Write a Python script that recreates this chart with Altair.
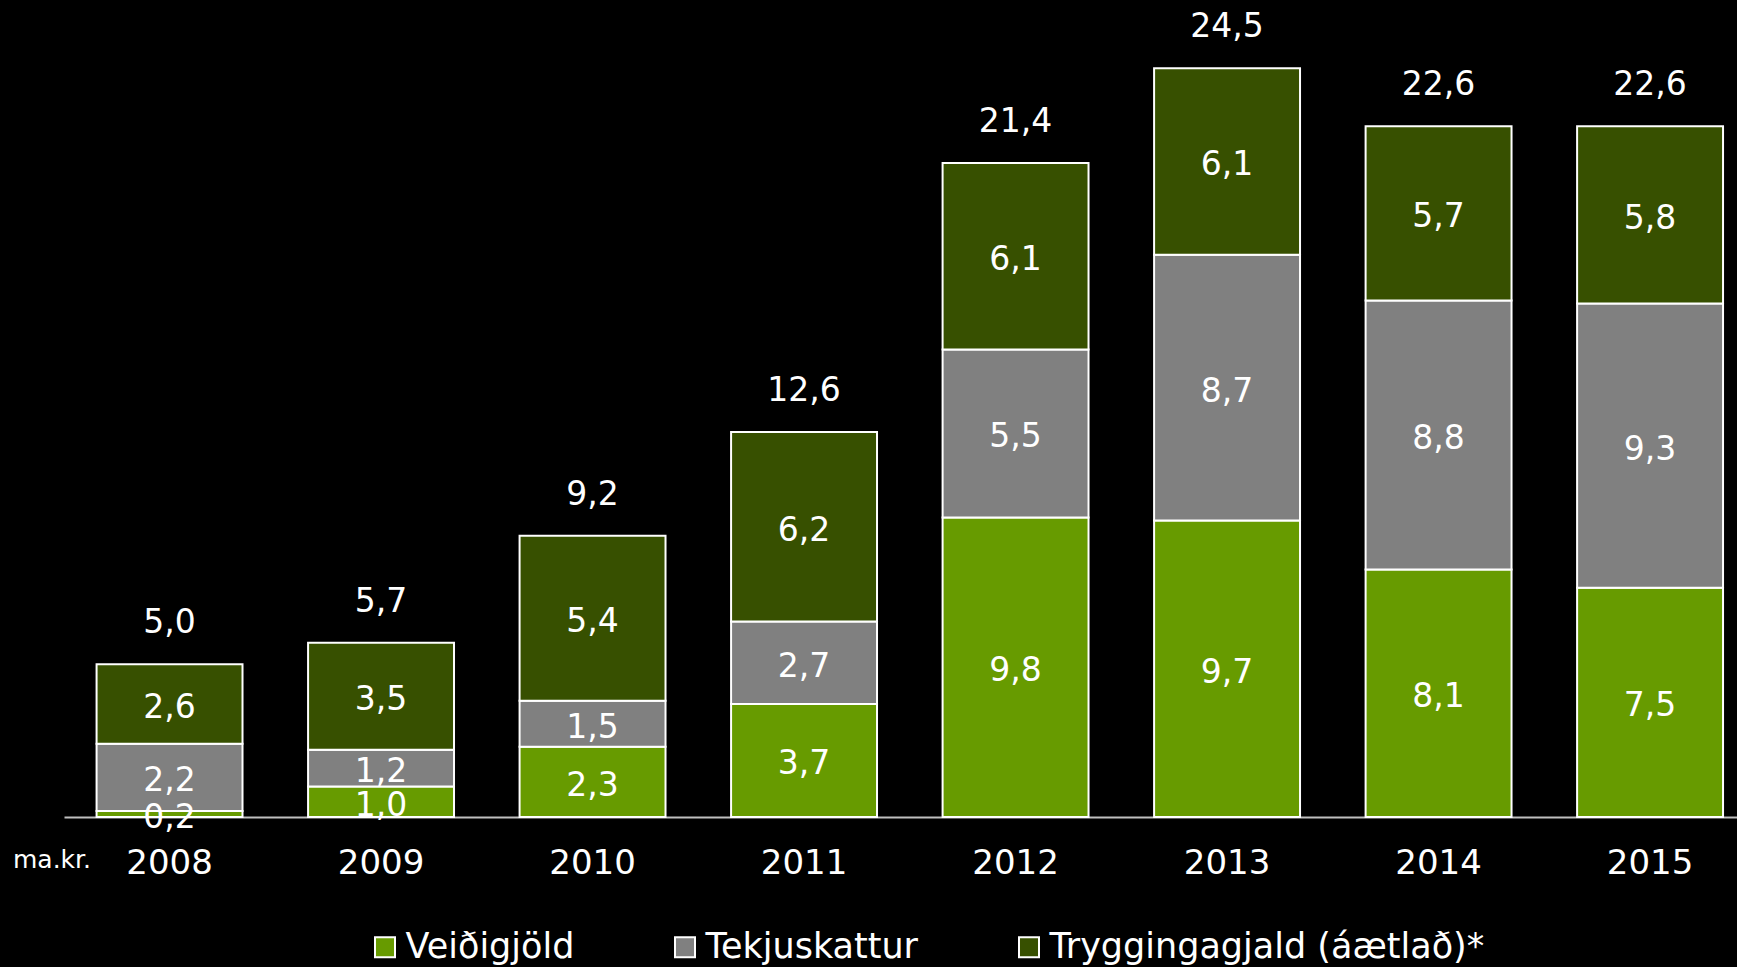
import altair as alt
import pandas as pd
import jinja2

years = ["2008", "2009", "2010", "2011", "2012", "2013", "2014", "2015"]
veidigjold = [0.2, 1.0, 2.3, 3.7, 9.8, 9.7, 8.1, 7.5]
tekjuskattur = [2.2, 1.2, 1.5, 2.7, 5.5, 8.7, 8.8, 9.3]
tryggingagjald = [2.6, 3.5, 5.4, 6.2, 6.1, 6.1, 5.7, 5.8]
totals = [5.0, 5.7, 9.2, 12.6, 21.4, 24.5, 22.6, 22.6]
series = ["Veiðigjöld", "Tekjuskattur", "Tryggingagjald (áætlað)*"]
colors = ["#679b00", "#808080", "#375000"]

FONT = "DejaVu Sans"

def fmt(v):
    return f"{v:.1f}".replace(".", ",")

rows = []
for i, y in enumerate(years):
    base = 0.0
    for k, (name, vals) in enumerate(zip(series, [veidigjold, tekjuskattur, tryggingagjald])):
        v = vals[i]
        rows.append({"year": y, "series": name, "order": k, "y0": base, "y1": base + v,
                     "mid": base + v / 2, "label": fmt(v)})
        base += v
df = pd.DataFrame(rows)
tot = pd.DataFrame({"year": years, "total": totals, "label": [fmt(t) for t in totals]})

W, H = 1673, 764
xscale = alt.Scale(domain=years, paddingInner=0.31, paddingOuter=0.110, align=0.70)
yscale = alt.Scale(domain=[0, 25], nice=False)

bars = alt.Chart(df).mark_bar(stroke="white", strokeWidth=2).encode(
    x=alt.X("year:N", scale=xscale, sort=years,
            axis=alt.Axis(title=None, labelAngle=0, labelFontSize=34, labelColor="white",
                          labelFont=FONT, ticks=False, labelPadding=29,
                          domainColor="#bfbfbf", domainWidth=2)),
    y=alt.Y("y0:Q", scale=yscale, axis=None),
    y2="y1:Q",
    color=alt.Color("series:N", scale=alt.Scale(domain=series, range=colors),
                    legend=alt.Legend(title=None, orient="none", direction="horizontal",
                                      columns=3, legendX=303.5, legendY=876.5,
                                      labelFontSize=35, labelColor="white", labelFont=FONT,
                                      symbolType="square", symbolSize=400,
                                      symbolStrokeColor="white", symbolStrokeWidth=2,
                                      labelOffset=3, columnPadding=93, padding=0,
                                      labelLimit=1000)),
)

seglabels = alt.Chart(df).mark_text(fontSize=33, color="white", font=FONT, baseline="middle", dy=4).encode(
    x=alt.X("year:N", scale=xscale, sort=years),
    y=alt.Y("mid:Q", scale=yscale),
    text="label:N",
)

totlabels = alt.Chart(tot).mark_text(fontSize=33, color="white", font=FONT, baseline="middle", dy=-41).encode(
    x=alt.X("year:N", scale=xscale, sort=years),
    y=alt.Y("total:Q", scale=yscale),
    text="label:N",
)

unit = alt.Chart(pd.DataFrame({"t": ["ma.kr."]})).mark_text(
    fontSize=25, color="white", font=FONT, align="left", baseline="middle"
).encode(x=alt.value(-51), y=alt.value(807), text="t:N")

chart = alt.layer(bars, seglabels, totlabels, unit).properties(
    width=W, height=H,
    autosize=alt.AutoSizeParams(type="none"),
    padding={"left": 64, "top": 53, "right": 0, "bottom": 150},
    background="black",
).configure_view(stroke=None)

PAGE = jinja2.Template("""<!DOCTYPE html>
<html>
<head>
<meta charset="utf-8">
<style>
html, body { margin: 0; padding: 0; background: #000; overflow: hidden; }
</style>
<script type="text/javascript" src="{{ base_url }}/vega@{{ vega_version }}"></script>
<script type="text/javascript" src="{{ base_url }}/vega-lite@{{ vegalite_version }}"></script>
<script type="text/javascript" src="{{ base_url }}/vega-embed@{{ vegaembed_version }}"></script>
</head>
<body>
<div id="{{ output_div }}"></div>
<script type="text/javascript">
vegaEmbed("#{{ output_div }}", {{ spec }}, {{ embed_options }}).catch(console.error);
</script>
</body>
</html>
""")

chart.save("out.html", embed_options={"renderer": "svg", "actions": False}, template=PAGE)
